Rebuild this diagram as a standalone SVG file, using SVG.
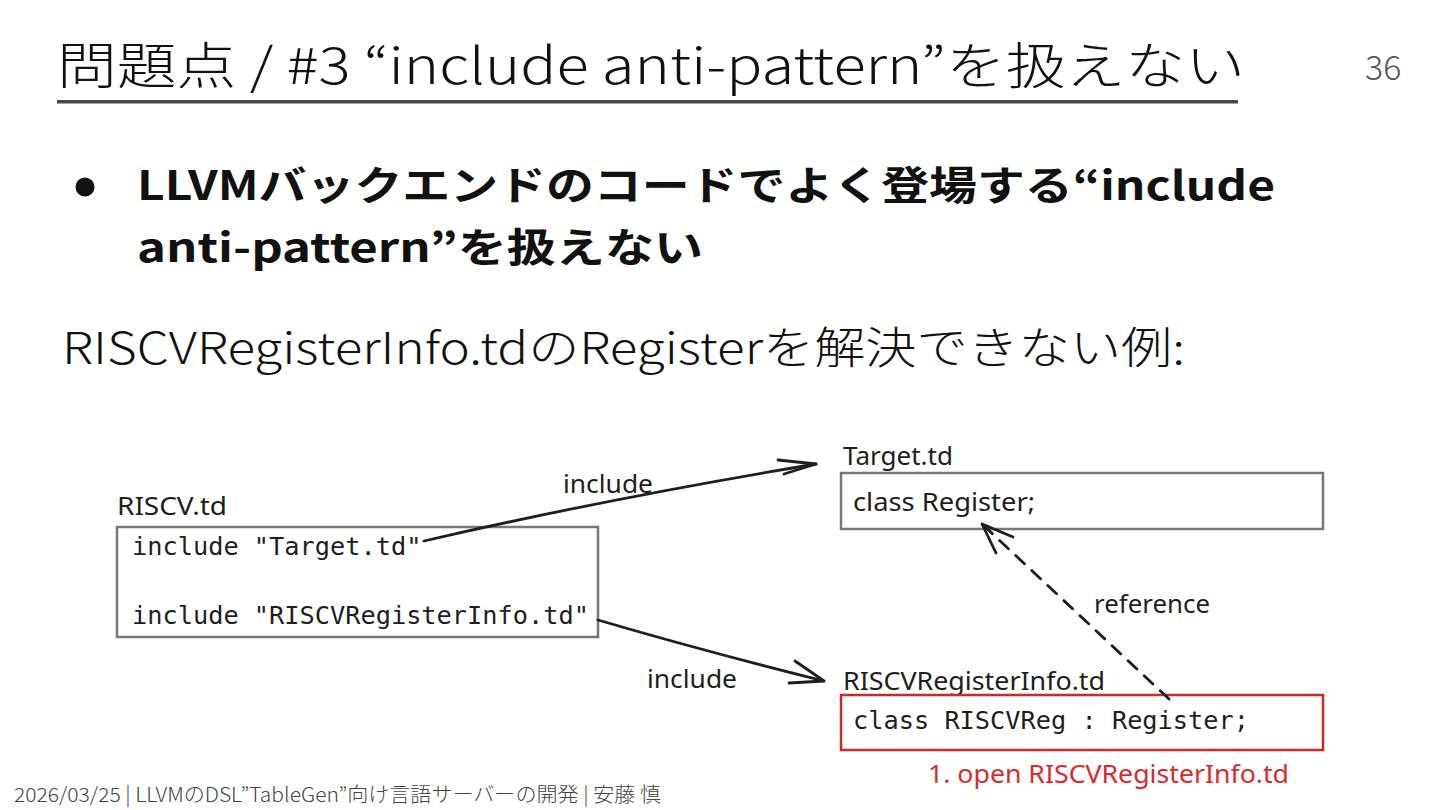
<svg xmlns="http://www.w3.org/2000/svg" width="1440" height="810" viewBox="0 0 1440 810">
<defs>
<style>
.jp{font-family:"Noto Sans CJK JP","Noto Sans",sans-serif;}
.hand{font-family:"Noto Sans","Lato",sans-serif;font-size:25px;fill:#1e1e1e;}
.mono{font-family:"DejaVu Sans Mono","Liberation Mono",monospace;font-size:25.3px;fill:#1e1e1e;}
.box{fill:#fff;stroke:#777;stroke-width:2.5;}
.redbox{fill:#fff;stroke:#c92a2a;stroke-width:2.5;}
.ln{fill:none;stroke:#1e1e1e;stroke-width:2.8;stroke-linecap:round;stroke-linejoin:round;}
</style>
</defs>
<rect width="1440" height="810" fill="#fff"/>
<g id="title">
<text class="jp" x="57" y="84" font-size="50" font-weight="300" fill="#111" textLength="1188" lengthAdjust="spacingAndGlyphs">問題点 / #3 “include anti-pattern”を扱えない</text>
<rect x="57" y="100" width="1181" height="3.5" fill="#4a4a4a"/>
<text class="jp" x="1365" y="80" font-size="34" font-weight="300" fill="#555">36</text>
</g>
<g id="bullet">
<circle cx="85" cy="187" r="9.5" fill="#111"/>
<text class="jp" x="137" y="200" font-size="40" font-weight="700" fill="#111" textLength="1138" lengthAdjust="spacingAndGlyphs">LLVMバックエンドのコードでよく登場する“include</text>
<text class="jp" x="137" y="262" font-size="40" font-weight="700" fill="#111" textLength="566" lengthAdjust="spacingAndGlyphs">anti-pattern”を扱えない</text>
</g>
<g id="subtitle">
<text class="jp" x="62" y="364" font-size="44" font-weight="300" fill="#111" textLength="1123" lengthAdjust="spacingAndGlyphs">RISCVRegisterInfo.tdのRegisterを解決できない例:</text>
</g>
<g id="node-riscv">
<text class="hand" x="117" y="515" textLength="110" lengthAdjust="spacingAndGlyphs">RISCV.td</text>
<rect class="box" x="117" y="527" width="481" height="110"/>
<text class="mono" x="132" y="555">include "Target.td"</text>
<text class="mono" x="132" y="624">include "RISCVRegisterInfo.td"</text>
</g>
<g id="node-target">
<text class="hand" x="843" y="465" textLength="110" lengthAdjust="spacingAndGlyphs">Target.td</text>
<rect class="box" x="841" y="473" width="482" height="56"/>
<text class="hand" x="853" y="511" textLength="182" lengthAdjust="spacingAndGlyphs">class Register;</text>
</g>
<g id="node-reginfo">
<text class="hand" x="843" y="690" textLength="262" lengthAdjust="spacingAndGlyphs">RISCVRegisterInfo.td</text>
<rect class="redbox" x="841" y="695" width="482" height="55"/>
<text class="mono" x="853" y="729">class RISCVReg : Register;</text>
<text class="hand" x="928" y="783" style="fill:#d92b2b" textLength="361" lengthAdjust="spacingAndGlyphs">1. open RISCVRegisterInfo.td</text>
</g>
<g id="connectors">
<path class="ln" d="M424 541 Q600 500 816 464"/>
<path class="ln" d="M778 460 L816 464 L784 474"/>
<text class="hand" x="563" y="493" textLength="90" lengthAdjust="spacingAndGlyphs">include</text>
<path class="ln" d="M598 620 Q700 650 824 681"/>
<path class="ln" d="M795 661 L824 681 L789 683"/>
<text class="hand" x="647" y="688" textLength="90" lengthAdjust="spacingAndGlyphs">include</text>
<path class="ln" d="M1169 699 L982 524" stroke-dasharray="12 10"/>
<path class="ln" d="M1013 537 L982 524 L996 553"/>
<text class="hand" x="1094" y="613" textLength="116" lengthAdjust="spacingAndGlyphs">reference</text>
</g>
<g id="footer">
<text class="jp" x="14" y="802" font-size="20" font-weight="300" fill="#444" textLength="647" lengthAdjust="spacingAndGlyphs">2026/03/25 | LLVMのDSL”TableGen”向け言語サーバーの開発 | 安藤 慎</text>
</g>
</svg>
